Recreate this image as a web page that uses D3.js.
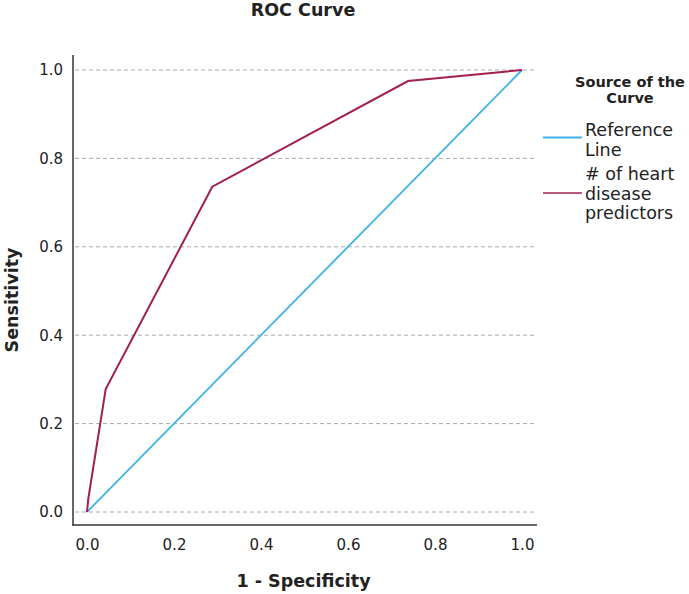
<!DOCTYPE html>
<html><head><meta charset="utf-8">
<script src="https://cdn.jsdelivr.net/npm/d3@7"></script>
<style>body{margin:0;background:#fff}</style>
</head><body>
<script>
const curveX = [0.0, 0.003, 0.043, 0.288, 0.738, 1.0];
const curveY = [0.0, 0.03, 0.278, 0.736, 0.975, 1.0];
const refX = [0.0, 1.0];
const refY = [0.0, 1.0];
const tickValues = [0.0, 0.2, 0.4, 0.6, 0.8, 1.0];
const legendLabels = [["Reference", "Line"], ["# of heart", "disease", "predictors"]];
const colors = ["#3eb2e8", "#a1204f"];

const W = 689, H = 594;
const svg = d3.select("body").append("svg").attr("width", W).attr("height", H);
const font = "'DejaVu Sans', sans-serif";
const x = d3.scaleLinear().domain([0, 1]).range([87, 522]);
const y = d3.scaleLinear().domain([0, 1]).range([512, 70]);

// gridlines
svg.append("g").selectAll("line").data(tickValues).join("line")
  .attr("x1", 75).attr("x2", 534)
  .attr("y1", d => y(d)).attr("y2", d => y(d))
  .attr("stroke", "#aaa").attr("stroke-width", 1).attr("stroke-dasharray", "4,3");

// axes
const xAxis = d3.axisBottom(x).tickValues(tickValues).tickFormat(d3.format(".1f")).tickSize(0).tickPadding(14);
const yAxis = d3.axisLeft(y).tickValues(tickValues).tickFormat(d3.format(".1f")).tickSize(0).tickPadding(10);
const gx = svg.append("g").attr("transform", "translate(0,525)").call(xAxis);
const gy = svg.append("g").attr("transform", "translate(73,0)").call(yAxis);
[gx, gy].forEach(g => {
  g.select(".domain").remove();
  g.selectAll("text").attr("font-family", font).attr("font-size", 15).attr("fill", "#222");
});
svg.append("line").attr("x1", 73).attr("x2", 73).attr("y1", 55).attr("y2", 525.5).attr("stroke", "#333").attr("stroke-width", 1.5);
svg.append("line").attr("x1", 72.3).attr("x2", 537).attr("y1", 525).attr("y2", 525).attr("stroke", "#333").attr("stroke-width", 1.5);

// lines
const line = d3.line().x(d => x(d[0])).y(d => y(d[1]));
svg.append("path").datum(refX.map((v, i) => [v, refY[i]])).attr("d", line)
  .attr("fill", "none").attr("stroke", colors[0]).attr("stroke-width", 1.8);
svg.append("path").datum(curveX.map((v, i) => [v, curveY[i]])).attr("d", line)
  .attr("fill", "none").attr("stroke", colors[1]).attr("stroke-width", 2);

// titles
svg.append("text").attr("x", 303).attr("y", 16).attr("text-anchor", "middle")
  .attr("font-family", font).attr("font-weight", "bold").attr("font-size", 17.5).attr("fill", "#222").text("ROC Curve");
svg.append("text").attr("x", 303.5).attr("y", 587).attr("text-anchor", "middle")
  .attr("font-family", font).attr("font-weight", "bold").attr("font-size", 17.5).attr("fill", "#222").text("1 - Specificity");
svg.append("text").attr("transform", "translate(18,300) rotate(-90)").attr("text-anchor", "middle")
  .attr("font-family", font).attr("font-weight", "bold").attr("font-size", 17.5).attr("fill", "#222").text("Sensitivity");

// legend
const lg = svg.append("g");
lg.append("text").attr("x", 630).attr("y", 87).attr("text-anchor", "middle")
  .attr("font-family", font).attr("font-weight", "bold").attr("font-size", 14.5).attr("fill", "#222").text("Source of the");
lg.append("text").attr("x", 630).attr("y", 103).attr("text-anchor", "middle")
  .attr("font-family", font).attr("font-weight", "bold").attr("font-size", 14.5).attr("fill", "#222").text("Curve");
const lineY = [137.5, 193];
const textY0 = [136, 180];
legendLabels.forEach((lbls, i) => {
  lg.append("line").attr("x1", 543).attr("x2", 582).attr("y1", lineY[i]).attr("y2", lineY[i])
    .attr("stroke", colors[i]).attr("stroke-width", i === 0 ? 1.8 : 1.5);
  lbls.forEach((t, j) => {
    lg.append("text").attr("x", 585).attr("y", textY0[i] + j * 19.5)
      .attr("font-family", font).attr("font-size", 17.5).attr("fill", "#222").text(t);
  });
});
</script>
</body></html>
